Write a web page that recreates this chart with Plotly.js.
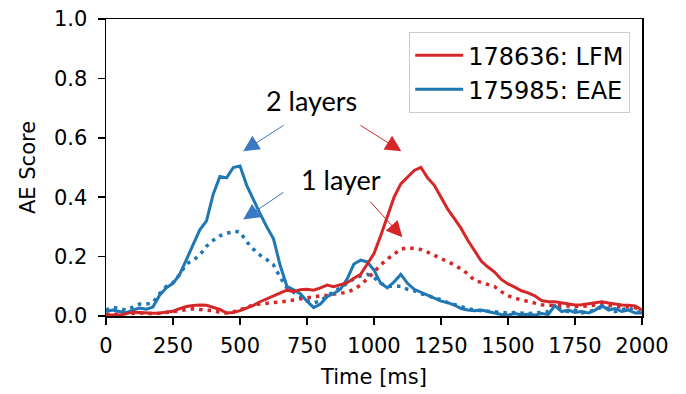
<!DOCTYPE html>
<html>
<head>
<meta charset="utf-8">
<script src="https://cdn.plot.ly/plotly-3.0.1.min.js"></script>
<style>html,body{margin:0;padding:0;background:#fff}#chart{width:686px;height:394px}</style>
</head>
<body>
<div id="chart"></div>
<script>
const timeMs = [0,25,50,75,100,125,150,175,200,225,250,275,300,325,350,375,400,425,450,475,500,525,550,575,600,625,650,675,700,725,750,775,800,825,850,875,900,925,950,975,1000,1025,1050,1075,1100,1125,1150,1175,1200,1225,1250,1275,1300,1325,1350,1375,1400,1425,1450,1475,1500,1525,1550,1575,1600,1625,1650,1675,1700,1725,1750,1775,1800,1825,1850,1875,1900,1925,1950,1975,2000];

const lfm2 = [0.003,0.004,0.003,0.008,0.013,0.012,0.010,0.009,0.010,0.012,0.016,0.025,0.032,0.035,0.037,0.036,0.030,0.022,0.010,0.012,0.018,0.027,0.036,0.048,0.058,0.066,0.077,0.087,0.083,0.088,0.090,0.087,0.095,0.104,0.099,0.106,0.112,0.127,0.140,0.175,0.210,0.270,0.335,0.400,0.445,0.468,0.490,0.500,0.465,0.440,0.400,0.360,0.328,0.295,0.255,0.220,0.185,0.165,0.148,0.123,0.108,0.097,0.085,0.078,0.068,0.052,0.048,0.048,0.045,0.040,0.037,0.038,0.041,0.044,0.048,0.044,0.040,0.037,0.036,0.034,0.020];

const lfm1 = [0.005,0.006,0.006,0.008,0.010,0.010,0.008,0.008,0.009,0.012,0.015,0.018,0.022,0.024,0.022,0.020,0.018,0.012,0.010,0.014,0.020,0.028,0.038,0.040,0.042,0.045,0.048,0.050,0.054,0.058,0.062,0.065,0.068,0.070,0.073,0.076,0.080,0.090,0.104,0.125,0.150,0.172,0.192,0.210,0.225,0.230,0.228,0.224,0.215,0.205,0.193,0.182,0.172,0.158,0.142,0.120,0.112,0.105,0.099,0.082,0.068,0.060,0.055,0.050,0.043,0.038,0.036,0.035,0.033,0.032,0.031,0.032,0.034,0.036,0.040,0.036,0.033,0.030,0.030,0.028,0.018];

const eae2 = [0.015,0.020,0.015,0.011,0.020,0.027,0.023,0.030,0.070,0.095,0.110,0.140,0.190,0.240,0.290,0.320,0.410,0.470,0.465,0.500,0.505,0.440,0.390,0.345,0.300,0.260,0.170,0.100,0.088,0.075,0.050,0.028,0.040,0.065,0.076,0.090,0.125,0.175,0.188,0.182,0.155,0.110,0.095,0.115,0.140,0.110,0.090,0.080,0.072,0.060,0.050,0.045,0.037,0.025,0.020,0.018,0.020,0.015,0.010,0.005,0.003,0.008,0.004,0.006,0.003,0.008,0.005,0.035,0.015,0.020,0.012,0.015,0.010,0.020,0.035,0.020,0.025,0.015,0.020,0.010,0.010];

const eae1 = [0.020,0.030,0.025,0.020,0.030,0.040,0.040,0.045,0.075,0.100,0.112,0.140,0.175,0.188,0.205,0.235,0.255,0.270,0.278,0.285,0.283,0.250,0.225,0.205,0.190,0.172,0.130,0.095,0.080,0.065,0.052,0.045,0.050,0.068,0.080,0.095,0.110,0.125,0.135,0.140,0.130,0.110,0.100,0.100,0.100,0.090,0.085,0.075,0.070,0.060,0.055,0.045,0.038,0.030,0.025,0.020,0.018,0.015,0.015,0.012,0.010,0.012,0.010,0.008,0.010,0.012,0.015,0.040,0.020,0.015,0.020,0.010,0.015,0.020,0.030,0.025,0.015,0.020,0.030,0.015,0.012];

const seriesNames = ['178636: LFM', '175985: EAE'];
const xTicks = [0,250,500,750,1000,1250,1500,1750,2000];
const yTicks = [0,0.2,0.4,0.6,0.8,1.0];

const RED = '#d62728', BLUE = '#1f77b4';
const DOTS = '3.5px,5px';

const traces = [
  {x: timeMs, y: eae1, mode: 'lines', line: {color: BLUE, width: 3.5, dash: DOTS}, showlegend: false, hoverinfo: 'skip'},
  {x: timeMs, y: lfm1, mode: 'lines', line: {color: RED, width: 3.5, dash: DOTS}, showlegend: false, hoverinfo: 'skip'},
  {x: timeMs, y: eae2, mode: 'lines', line: {color: BLUE, width: 3}, name: seriesNames[1], showlegend: true},
  {x: timeMs, y: lfm2, mode: 'lines', line: {color: RED, width: 3}, name: seriesNames[0], showlegend: true}
];

const annFont = {family: 'Lato', size: 27, color: '#000'};
function arrow(x, y, ax, ay, color) {
  return {x: x, y: y, ax: ax, ay: ay, xref: 'x', yref: 'y', axref: 'x', ayref: 'y',
    text: '', showarrow: true, arrowhead: 2, arrowsize: 3.2, arrowwidth: 1, arrowcolor: color};
}

const layout = {
  width: 686, height: 394,
  margin: {l: 106, r: 44, t: 19, b: 78},
  paper_bgcolor: '#fff', plot_bgcolor: '#fff',
  font: {family: 'DejaVu Sans', size: 21, color: '#000'},
  showlegend: true,
  legend: {x: 0.978, y: 0.956, xanchor: 'right', yanchor: 'top', bgcolor: '#fff',
    bordercolor: '#cccccc', borderwidth: 1, font: {family: 'DejaVu Sans', size: 24}, traceorder: 'reversed',
    itemwidth: 48},
  xaxis: {range: [0, 2000], tickvals: xTicks, ticktext: xTicks.map(String), showgrid: false, zeroline: false,
    showline: true, mirror: true, linecolor: '#000', linewidth: 1.5, ticks: 'outside', ticklen: 7, tickwidth: 1.5,
    tickcolor: '#000', tickfont: {family: 'DejaVu Sans', size: 21}, ticklabelstandoff: 3,
    title: {text: 'Time [ms]', font: {family: 'DejaVu Sans', size: 21}, standoff: 12}},
  yaxis: {range: [0, 1.0], tickvals: yTicks, ticktext: yTicks.map(v => v.toFixed(1)), showgrid: false, zeroline: false,
    showline: true, mirror: true, linecolor: '#000', linewidth: 1.5, ticks: 'outside', ticklen: 7, tickwidth: 1.5,
    tickcolor: '#000', tickfont: {family: 'DejaVu Sans', size: 21}, ticklabelstandoff: 6,
    title: {text: 'AE Score', font: {family: 'DejaVu Sans', size: 21}, standoff: 12}},
  annotations: [
    {x: 765, y: 0.725, xref: 'x', yref: 'y', text: '2 layers', showarrow: false, font: annFont},
    {x: 877, y: 0.46, xref: 'x', yref: 'y', text: '1 layer', showarrow: false, font: annFont},
    arrow(512, 0.555, 668, 0.645, '#3a78c2'),
    arrow(1102, 0.555, 944, 0.645, RED),
    arrow(512, 0.325, 668, 0.42, '#3a78c2'),
    arrow(1106, 0.265, 981, 0.39, RED)
  ]
};

Plotly.newPlot('chart', traces, layout, {displayModeBar: false, staticPlot: true});
</script>
</body>
</html>
